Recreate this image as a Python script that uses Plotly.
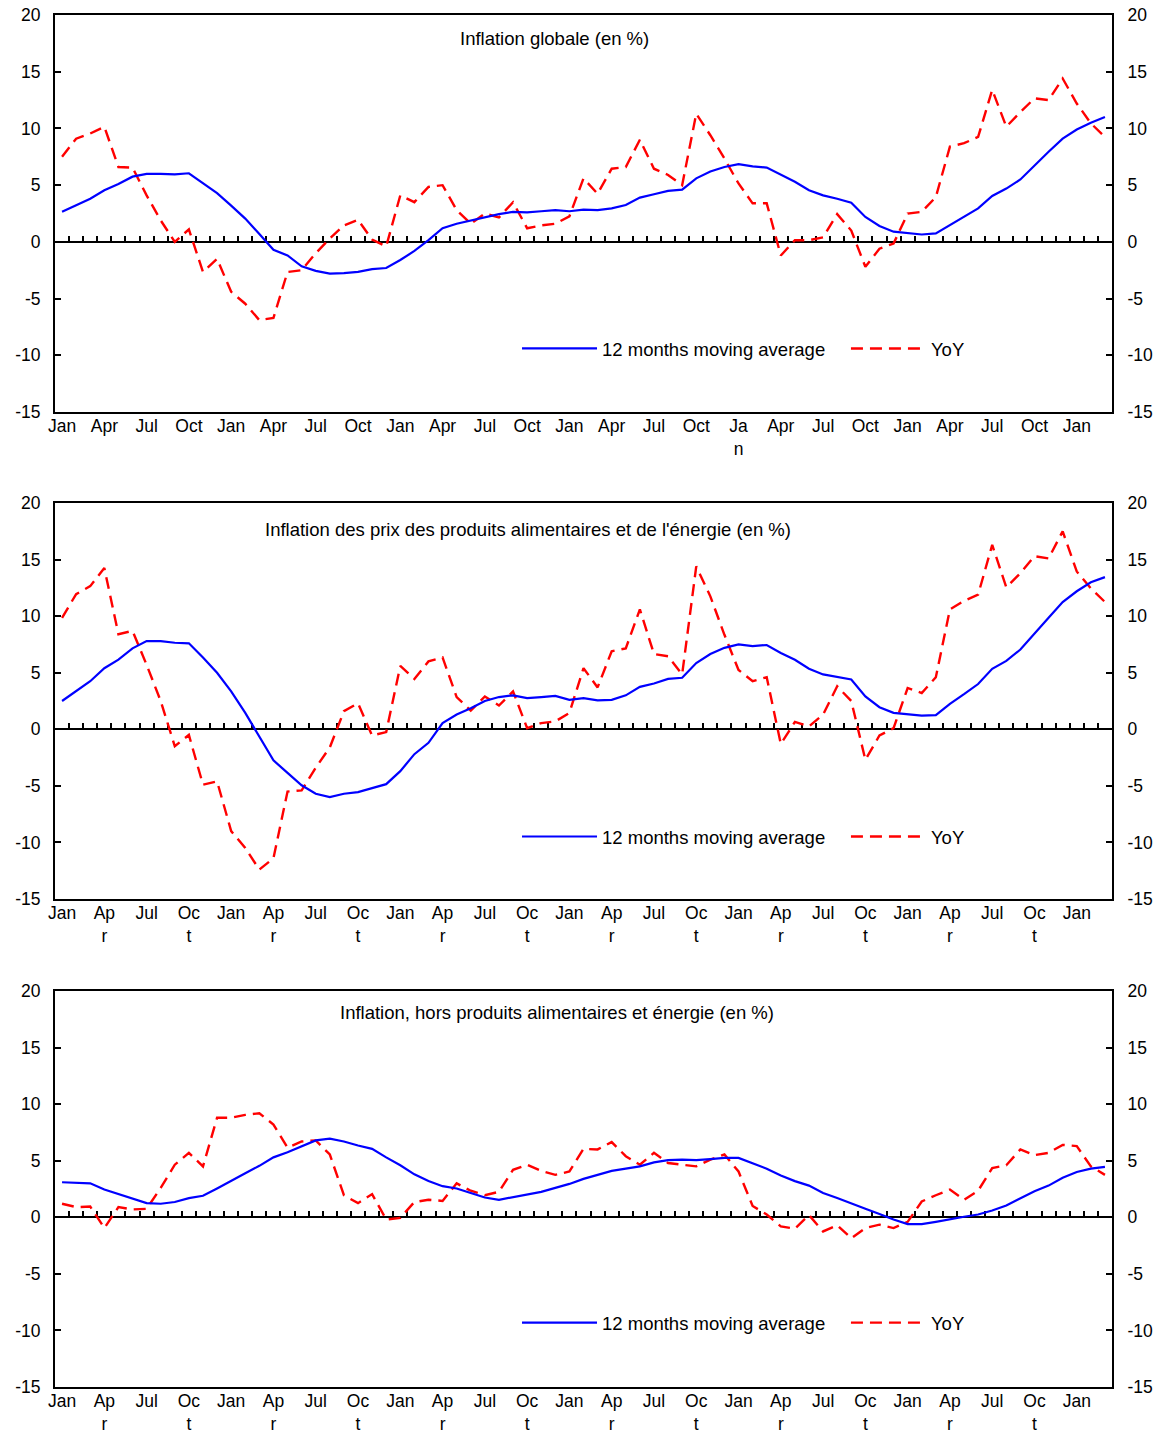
import plotly.graph_objects as go

# Monthly observations: Jan of year 1 through Mar of year 7 (75 months)
months = list(range(75))

ticks_global = ["Jan", "Apr", "Jul", "Oct", "Jan", "Apr", "Jul", "Oct",
                "Jan", "Apr", "Jul", "Oct", "Jan", "Apr", "Jul", "Oct",
                "Ja<br>n", "Apr", "Jul", "Oct", "Jan", "Apr", "Jul", "Oct", "Jan"]
ticks_wrapped = ["Jan", "Ap<br>r", "Jul", "Oc<br>t", "Jan", "Ap<br>r", "Jul", "Oc<br>t",
                 "Jan", "Ap<br>r", "Jul", "Oc<br>t", "Jan", "Ap<br>r", "Jul", "Oc<br>t",
                 "Jan", "Ap<br>r", "Jul", "Oc<br>t", "Jan", "Ap<br>r", "Jul", "Oc<br>t", "Jan"]
tick_positions = list(range(0, 75, 3))

value_ticks = [-15, -10, -5, 0, 5, 10, 15, 20]
value_labels = ["-15", "-10", "-5", "0", "5", "10", "15", "20"]

global_ma = [2.65, 3.2, 3.8, 4.55, 5.1, 5.75, 6.0, 6.0, 5.95, 6.05, 5.15, 4.3, 3.2,
             2.05, 0.7, -0.7, -1.2, -2.15, -2.55, -2.8, -2.75, -2.65, -2.4, -2.3, -1.6,
             -0.8, 0.15, 1.2, 1.6, 1.9, 2.2, 2.45, 2.65, 2.6, 2.7, 2.8, 2.7, 2.85, 2.8,
             2.95, 3.25, 3.9, 4.2, 4.5, 4.6, 5.6, 6.2, 6.6, 6.85, 6.65, 6.55, 5.9, 5.3,
             4.55, 4.1, 3.8, 3.45, 2.2, 1.4, 0.9, 0.75, 0.65, 0.75, 1.5, 2.2, 2.95, 4.05,
             4.7, 5.5, 6.75, 7.95, 9.1, 9.9, 10.5, 11.0]
global_yoy = [7.5, 9.1, 9.55, 10.15, 6.6, 6.55, 4.1, 1.9, 0.0, 1.1, -2.65, -1.5, -4.4,
              -5.45, -6.9, -6.7, -2.65, -2.5, -1.0, 0.3, 1.45, 1.95, 0.2, -0.4, 4.1, 3.5,
              4.85, 5.0, 2.8, 1.6, 2.5, 2.15, 3.5, 1.2, 1.45, 1.6, 2.25, 5.6, 4.25, 6.45,
              6.6, 9.0, 6.45, 5.9, 5.0, 11.3, 9.4, 7.35, 5.15, 3.4, 3.4, -1.2, 0.15, 0.15,
              0.4, 2.45, 1.0, -2.2, -0.6, -0.15, 2.5, 2.65, 3.95, 8.4, 8.7, 9.25, 13.4,
              10.15, 11.45, 12.65, 12.5, 14.4, 12.2, 10.45, 9.25]

food_energy_ma = [2.5, 3.35, 4.25, 5.4, 6.15, 7.15, 7.8, 7.8, 7.65, 7.6, 6.35, 5.0, 3.35,
                  1.45, -0.6, -2.75, -3.85, -4.95, -5.7, -6.0, -5.7, -5.55, -5.2, -4.85,
                  -3.7, -2.2, -1.2, 0.55, 1.3, 1.85, 2.5, 2.85, 3.0, 2.75, 2.85, 2.95, 2.6,
                  2.75, 2.55, 2.6, 3.0, 3.75, 4.05, 4.45, 4.55, 5.85, 6.65, 7.2, 7.5, 7.35,
                  7.45, 6.75, 6.15, 5.35, 4.85, 4.6, 4.4, 2.9, 1.95, 1.45, 1.3, 1.2, 1.25,
                  2.25, 3.1, 4.0, 5.35, 6.05, 7.05, 8.5, 9.85, 11.25, 12.2, 13.0, 13.45]
food_energy_yoy = [9.85, 11.95, 12.65, 14.25, 8.4, 8.7, 5.7, 2.5, -1.5, -0.5, -4.9, -4.6,
                   -9.0, -10.5, -12.4, -11.4, -5.5, -5.4, -3.4, -1.6, 1.6, 2.3, -0.55,
                   -0.25, 5.6, 4.45, 6.0, 6.35, 2.85, 1.65, 2.9, 2.1, 3.35, 0.1, 0.55, 0.7,
                   1.45, 5.4, 3.7, 6.9, 7.15, 10.6, 6.65, 6.45, 4.85, 14.4, 11.75, 8.35,
                   5.25, 4.25, 4.6, -1.3, 0.65, 0.25, 1.3, 3.8, 2.5, -2.7, -0.55, 0.1, 3.65,
                   3.2, 4.6, 10.6, 11.35, 11.9, 16.3, 12.55, 13.8, 15.3, 15.1, 17.5, 13.95,
                   12.45, 11.25]

core_ma = [3.1, 3.05, 3.0, 2.45, 2.05, 1.65, 1.25, 1.2, 1.35, 1.7, 1.9, 2.55, 3.25, 3.9,
           4.55, 5.3, 5.75, 6.3, 6.8, 6.95, 6.7, 6.35, 6.05, 5.3, 4.6, 3.8, 3.2, 2.75, 2.55,
           2.15, 1.75, 1.55, 1.8, 2.05, 2.25, 2.6, 2.95, 3.4, 3.75, 4.1, 4.3, 4.5, 4.85,
           5.05, 5.1, 5.05, 5.15, 5.25, 5.25, 4.75, 4.3, 3.7, 3.2, 2.8, 2.15, 1.7, 1.2,
           0.75, 0.3, -0.2, -0.6, -0.6, -0.4, -0.15, 0.05, 0.25, 0.6, 1.05, 1.65, 2.3, 2.8,
           3.5, 4.0, 4.3, 4.45]
core_yoy = [1.2, 0.9, 0.95, -0.95, 0.9, 0.7, 0.75, 2.6, 4.65, 5.7, 4.5, 8.8, 8.8, 9.05,
            9.2, 8.2, 6.15, 6.7, 6.8, 5.55, 1.95, 1.25, 2.05, -0.2, -0.05, 1.35, 1.55, 1.45,
            3.0, 2.35, 1.95, 2.25, 4.2, 4.65, 4.1, 3.75, 4.05, 6.05, 6.0, 6.65, 5.4, 4.65,
            5.7, 4.8, 4.65, 4.5, 5.1, 5.55, 4.05, 1.0, 0.25, -0.8, -1.0, 0.2, -1.25, -0.7,
            -1.85, -0.95, -0.65, -0.95, -0.4, 1.4, 1.95, 2.45, 1.55, 2.35, 4.35, 4.6, 6.0,
            5.5, 5.7, 6.4, 6.3, 4.5, 3.75]

panels = [
    dict(title="Inflation globale (en %)", ma=global_ma, yoy=global_yoy,
         ticks=ticks_global, domain=[0.7106, 1.0], title_pos=(0.4726, 0.942),
         legend_y=0.7566),
    dict(title="Inflation des prix des produits alimentaires et de l'énergie (en %)",
         ma=food_energy_ma, yoy=food_energy_yoy, ticks=ticks_wrapped,
         domain=[0.3557, 0.6443], title_pos=(0.4475, 0.932), legend_y=0.4009),
    dict(title="Inflation, hors produits alimentaires et énergie (en %)",
         ma=core_ma, yoy=core_yoy, ticks=ticks_wrapped,
         domain=[0.0, 0.2886], title_pos=(0.4745, 0.947), legend_y=0.0466),
]

FONT = "Liberation Sans, Arial, sans-serif"
FSIZE = 18.5
TICK_SIZE = 17.5
Y_MIN, Y_MAX = -15, 20
X_RANGE = [-0.5, 74.5]
LEGEND_X_MA = 0.4371
LEGEND_X_YOY = 0.7483
LEGEND_ITEM_W = 75

fig = go.Figure()
layout = {}
for p, panel in enumerate(panels, start=1):
    sfx = "" if p == 1 else str(p)
    xa, ya = "x" + sfx, "y" + sfx
    xz, yr = "x" + str(p + 3), "y" + str(p + 3)
    leg_ma = "legend" + ("" if p == 1 else str(2 * p - 1))
    leg_yoy = "legend" + str(2 * p)

    # moving average drawn against the zero-crossing axis and the right axis
    fig.add_trace(go.Scatter(
        x=months, y=panel["ma"], mode="lines", name="12 months moving average",
        line=dict(color="#0000FF", width=2.2), xaxis=xz, yaxis=yr,
        legend=leg_ma, showlegend=True))
    fig.add_trace(go.Scatter(
        x=months, y=panel["yoy"], mode="lines", name="YoY",
        line=dict(color="#FF0000", width=2.4, dash="12px,7px"), xaxis=xa, yaxis=ya,
        legend=leg_yoy, showlegend=True))

    d0, d1 = panel["domain"]
    # bottom category axis with the framing box
    layout["xaxis" + sfx] = dict(
        domain=[0, 1], anchor=ya, range=X_RANGE, tickmode="array",
        tickvals=tick_positions, ticktext=panel["ticks"], ticks="",
        showline=True, linecolor="black", linewidth=2, mirror=True,
        showgrid=False, zeroline=False, tickangle=0, ticklabelstandoff=-3,
        tickfont=dict(family=FONT, size=TICK_SIZE, color="black"))
    layout["yaxis" + sfx] = dict(
        domain=[d0, d1], anchor=xa, range=[Y_MIN, Y_MAX], tickmode="array",
        tickvals=value_ticks, ticktext=value_labels,
        ticks="inside", ticklen=6, tickwidth=2, tickcolor="black",
        showline=True, linecolor="black", linewidth=2, showgrid=False,
        zeroline=False, ticklabelstandoff=9,
        tickfont=dict(family=FONT, size=TICK_SIZE, color="black"))
    # right-hand value axis
    layout["yaxis" + str(p + 3)] = dict(
        overlaying=ya, anchor=xa, side="right", range=[Y_MIN, Y_MAX],
        tickmode="array", tickvals=value_ticks, ticktext=value_labels,
        ticks="inside", ticklen=6, tickwidth=2, tickcolor="black",
        showline=True, linecolor="black", linewidth=2, showgrid=False,
        zeroline=False, ticklabelstandoff=10,
        tickfont=dict(family=FONT, size=TICK_SIZE, color="black"))
    # horizontal axis crossing at zero with monthly tick marks
    zero_pos = d0 + (d1 - d0) * (0 - Y_MIN) / (Y_MAX - Y_MIN)
    layout["xaxis" + str(p + 3)] = dict(
        overlaying=xa, anchor="free", position=zero_pos, side="top",
        range=X_RANGE, tickmode="array",
        tickvals=[k - 0.5 for k in range(1, 75)], showticklabels=False,
        ticks="outside", ticklen=5, tickwidth=2, tickcolor="black",
        showline=True, linecolor="black", linewidth=2, showgrid=False,
        zeroline=False, layer="below traces")
    for name, lx in ((leg_ma, LEGEND_X_MA), (leg_yoy, LEGEND_X_YOY)):
        layout[name] = dict(
            orientation="h", x=lx, y=panel["legend_y"], xanchor="left",
            yanchor="middle", bgcolor="rgba(0,0,0,0)", itemwidth=LEGEND_ITEM_W,
            font=dict(family=FONT, size=FSIZE, color="black"))
    fig.add_annotation(
        text=panel["title"], xref=xa + " domain", yref=ya + " domain",
        x=panel["title_pos"][0], y=panel["title_pos"][1], showarrow=False,
        xanchor="center", yanchor="middle",
        font=dict(family=FONT, size=FSIZE, color="black"))

fig.update_layout(
    width=1161, height=1433,
    margin=dict(l=55, r=49, t=15, b=46, autoexpand=False),
    paper_bgcolor="white", plot_bgcolor="white",
    font=dict(family=FONT, size=FSIZE, color="black"),
    **layout)

fig.write_html("out.html")
